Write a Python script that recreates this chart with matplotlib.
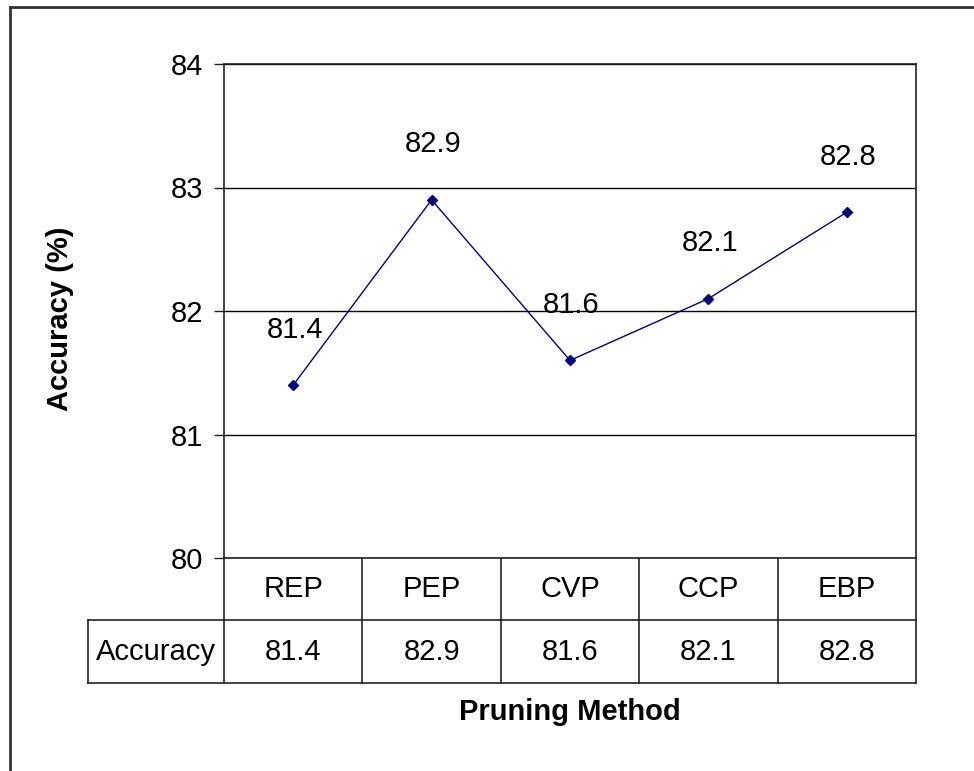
import matplotlib.pyplot as plt
import matplotlib.transforms as mtransforms

plt.rcParams['font.family'] = ['Liberation Sans', 'DejaVu Sans']

methods = ["REP", "PEP", "CVP", "CCP", "EBP"]
accuracy = [81.4, 82.9, 81.6, 82.1, 82.8]
yticks = [80, 81, 82, 83, 84]
row_name = "Accuracy"

W, H = 974, 771
fig = plt.figure(figsize=(W / 100, H / 100), dpi=100)

# plot area in pixels
L, R, T, B = 224, 916, 64, 558
ax = fig.add_axes([L / W, 1 - B / H, (R - L) / W, (B - T) / H])
x = list(range(len(methods)))
ax.plot(x, accuracy, color="#000080", lw=1, marker="D", ms=5, mfc="#000080", mec="#000080", zorder=3)
for xi, v in zip(x, accuracy):
    ax.annotate(f"{v}", (xi, v), xytext=(1, 40), textcoords="offset points",
                ha="center", va="center", fontsize=21)
ax.set_xlim(-0.5, len(methods) - 0.5)
ax.set_ylim(80, 84)
ax.set_yticks(yticks)
ax.set_yticklabels([str(t) for t in yticks], fontsize=21)
ax.yaxis.grid(True, color="black", lw=1)
ax.set_axisbelow(True)
ax.set_xticks([])
ax.tick_params(axis="y", length=7, width=1, pad=8, color="#222222")
for s in ax.spines.values():
    s.set_color("#222222")
    s.set_linewidth(1.2)
ax.set_ylabel("Accuracy (%)", fontsize=21, fontweight="bold")
ax.yaxis.set_label_coords(-(L - 74) / (R - L), 0.485)

# data table under the plot area
over = fig.add_axes([0, 0, 1, 1], zorder=-1)
over.set_xlim(0, W)
over.set_ylim(H, 0)
over.axis("off")
r1, r2, r3 = 558, 620, 683
cw = (R - L) / len(methods)
lc = "#222222"
over.plot([88, R], [r2, r2], color=lc, lw=1.2)
over.plot([88, R], [r3, r3], color=lc, lw=1.2)
over.plot([88, 88], [r2, r3], color=lc, lw=1.2)
for i in range(len(methods) + 1):
    xe = L + i * cw
    over.plot([xe, xe], [r1, r3], color=lc, lw=1.2)

trans = mtransforms.blended_transform_factory(ax.transData, over.transData)
for xi, m, v in zip(x, methods, accuracy):
    over.text(xi, (r1 + r2) / 2, m, transform=trans, ha="center", va="center", fontsize=21)
    over.text(xi, (r2 + r3) / 2, f"{v}", transform=trans, ha="center", va="center", fontsize=21)
over.text(156, (r2 + r3) / 2, row_name, ha="center", va="center", fontsize=21)
over.text(570, 712, "Pruning Method", ha="center", va="center", fontsize=21, fontweight="bold")

# outer chart frame
over.plot([10, W], [7, 7], color="#333333", lw=2)
over.plot([10, 10], [7, H], color="#333333", lw=2)

fig.savefig("out.png", dpi=100)
